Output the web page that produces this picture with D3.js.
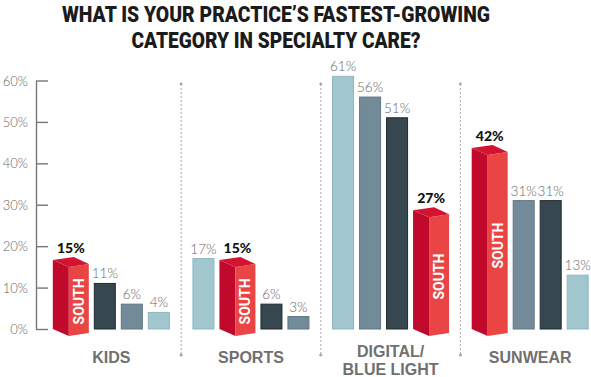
<!DOCTYPE html>
<html>
<head>
<meta charset="utf-8">
<script src="https://cdn.jsdelivr.net/npm/d3@7"></script>
<style>
  html, body { margin: 0; padding: 0; background: #fff; }
  svg { display: block; }
</style>
</head>
<body>
<svg width="591" height="377"></svg>
<script>
"use strict"

// categories and one array per region (South is the red 3d box)
const categories = ["KIDS", "SPORTS", "DIGITAL/|BLUE LIGHT", "SUNWEAR"]
const south = [15, 15, 27, 42]
const light = [4, 17, 61, 13]
const mid = [6, 3, 56, 31]
const dark = [11, 6, 51, 31]
const yTicks = [0, 10, 20, 30, 40, 50, 60]
const titleLines = ["WHAT IS YOUR PRACTICE\u2019S FASTEST-GROWING", "CATEGORY IN SPECIALTY CARE?"]

const series = [
    { key: "south", values: south, fill: "#e84444" },
    { key: "light", values: light, fill: "#a1c6cd", stroke: "#8fb6be" },
    { key: "mid", values: mid, fill: "#738b98", stroke: "#5f7784" },
    { key: "dark", values: dark, fill: "#36474f", stroke: "#1f2c33" },
]

const svg = d3.select("svg")

const y = d3.scaleLinear().domain([0, 60]).range([329, 80.5])
const x = d3.scaleBand().domain(categories).range([41.5, 600]).paddingInner(0)

// title
svg.selectAll("text.title")
    .data(titleLines)
    .join("text")
    .attr("class", "title")
    .attr("x", 276)
    .attr("y", (d, i) => 21.5 + i * 26)
    .attr("text-anchor", "middle")
    .attr("textLength", (d, i) => i == 0 ? 428 : 289)
    .attr("lengthAdjust", "spacingAndGlyphs")
    .style("font-family", "Roboto, 'Liberation Sans', sans-serif")
    .style("font-weight", 900)
    .style("font-size", "22px")
    .style("fill", "#1b1b1b")
    .text(d => d)

// y axis: line at x=36, ticks pointing right, labels on the left
const axis = svg.append("g")
    .attr("transform", "translate(36,0)")
    .call(d3.axisRight(y).tickValues(yTicks).tickSize(12).tickSizeOuter(0).tickFormat(d => d + "%"))
axis.select(".domain").attr("stroke", "#777").attr("stroke-width", 1.4)
axis.selectAll(".tick line").attr("stroke", "#777").attr("stroke-width", 1.4)
axis.selectAll(".tick text")
    .attr("x", -8)
    .attr("dy", "0.35em")
    .attr("text-anchor", "end")
    .style("font-family", "Lato, 'Open Sans', sans-serif")
    .style("font-weight", 300)
    .style("font-size", "13px")
    .style("fill", "#666")

// dotted dividers between groups
const dividers = categories.slice(1).map(c => x(c))
dividers.forEach(dx => {
    svg.append("line")
        .attr("x1", dx).attr("x2", dx)
        .attr("y1", 84).attr("y2", 355)
        .attr("stroke", "#a8a8a8")
        .attr("stroke-width", 1)
        .attr("stroke-dasharray", "2,2")
    svg.append("circle").attr("cx", dx).attr("cy", 84).attr("r", 1.4).attr("fill", "#a8a8a8")
    svg.append("circle").attr("cx", dx).attr("cy", 355).attr("r", 1.6).attr("fill", "#a8a8a8")
})

// bar layout inside each group: sorted high to low
const flatW = 22, boxSide = 16, boxFront = 20, gap = 5
const boxW = boxSide + boxFront
const base = y(0)

categories.forEach((cat, ci) => {
    const items = series.map(s => ({ key: s.key, s, v: s.values[ci] }))
        .sort((a, b) => b.v - a.v)
    const total = items.reduce((acc, it) => acc + (it.key == "south" ? boxW : flatW), 0) + gap * (items.length - 1)
    let cx = x(cat) + x.bandwidth() / 2 - total / 2
    const g = svg.append("g")

    items.forEach(it => {
        const yv = y(it.v)
        if (it.key == "south") {
            const x0 = cx, x1 = cx + boxSide, x2 = cx + boxW
            const t = yv - 7
            // left (side) face
            g.append("path")
                .attr("d", `M${x0},${t} L${x1},${t + 7} L${x1},${base + 7} L${x0},${base} Z`)
                .attr("fill", "#c10a2b")
            // front face
            g.append("path")
                .attr("d", `M${x1},${t + 7} L${x2},${t + 4} L${x2},${base + 4} L${x1},${base + 7} Z`)
                .attr("fill", "#e94545")
            // top face
            g.append("path")
                .attr("d", `M${x0},${t} L${x0 + 21},${t - 3} L${x2},${t + 4} L${x1},${t + 7} Z`)
                .attr("fill", "#d3132f")
            // SOUTH label on the front face
            const fy = ((t + 7) + (base + 7)) / 2
            g.append("text")
                .attr("transform", `translate(${(x1 + x2) / 2 + 5},${fy}) rotate(-90)`)
                .attr("text-anchor", "middle")
                .style("font-family", "Roboto, sans-serif")
                .style("font-weight", 700)
                .style("font-size", "14px")
                .style("fill", "#fff")
                .text("SOUTH")
            g.append("text")
                .attr("x", x0 + boxW / 2)
                .attr("y", t - 7)
                .attr("text-anchor", "middle")
                .style("font-family", "Lato, 'Open Sans', sans-serif")
                .style("font-weight", 900)
                .style("font-size", "14px")
                .style("fill", "#111")
                .text(it.v + "%")
            cx += boxW + gap
        } else {
            g.append("rect")
                .attr("x", cx + 0.5)
                .attr("y", yv)
                .attr("width", flatW - 1)
                .attr("height", base - yv)
                .attr("fill", it.s.fill)
                .attr("stroke", it.s.stroke)
                .attr("stroke-width", 1)
            g.append("text")
                .attr("x", cx + flatW / 2)
                .attr("y", yv - 5)
                .attr("text-anchor", "middle")
                .style("font-family", "Lato, 'Open Sans', sans-serif")
                .style("font-weight", 300)
                .style("font-size", "13.5px")
                .style("fill", "#676767")
                .text(it.v + "%")
            cx += flatW + gap
        }
    })
})

// category labels
categories.forEach(cat => {
    const lines = cat.split("|")
    const cx = x(cat) + x.bandwidth() / 2
    const y0 = lines.length > 1 ? 357 : 363
    lines.forEach((ln, i) => {
        svg.append("text")
            .attr("x", cx)
            .attr("y", y0 + i * 17.5)
            .attr("text-anchor", "middle")
            .style("font-family", "'Liberation Sans', Arial, sans-serif")
            .style("font-weight", 700)
            .style("font-size", "16px")
            .style("fill", "#707070")
            .text(ln)
    })
})
</script>
</body>
</html>
